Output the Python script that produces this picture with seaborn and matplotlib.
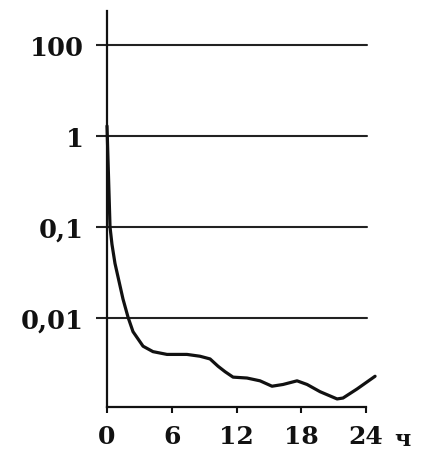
import matplotlib
matplotlib.use("Agg")
import matplotlib.pyplot as plt
import seaborn as sns
import pandas as pd

# Time after start, hours
hours = [0, 0.28, 0.46, 0.74, 1.48, 1.95, 2.41, 3.34, 4.26, 5.56, 7.41,
         8.62, 9.55, 10.29, 10.94, 11.68, 12.97, 14.18, 15.29, 16.31,
         17.61, 18.54, 19.74, 21.32, 21.87, 23.17, 24.84]
# Measured level (log scale)
level = [1.29, 0.1, 0.0646, 0.0398, 0.0162, 0.0102, 0.00708, 0.00490,
         0.00427, 0.00398, 0.00398, 0.00380, 0.00355, 0.00295, 0.00257,
         0.00224, 0.00219, 0.00204, 0.00178, 0.00186, 0.00204, 0.00186,
         0.00155, 0.00129, 0.00132, 0.00166, 0.00229]

x_ticks = [0, 6, 12, 18, 24]
x_tick_labels = ["0", "6", "12", "18", "24"]
y_ticks = [10, 1, 0.1, 0.01]
y_tick_labels = ["100", "1", "0,1", "0,01"]
x_unit = "ч"

sns.set_theme(style="white")
plt.rcParams["font.family"] = ["DejaVu Serif"]
plt.rcParams["font.weight"] = "bold"

fig = plt.figure(figsize=(4.23, 4.56), dpi=100)
ax = fig.add_axes([107 / 423, 1 - 408 / 456, (366 - 107) / 423, (408 - 12) / 456])

df = pd.DataFrame({"hours": hours, "level": level})
sns.lineplot(data=df, x="hours", y="level", ax=ax, color="#111111",
             linewidth=2.3, solid_joinstyle="round", solid_capstyle="round")
ax.lines[0].set_clip_on(False)

ax.set_yscale("log")
ax.set_xlim(0, 24)
ax.set_ylim(10 ** -2.978, 10 ** 1.374)

ax.set_yticks(y_ticks)
ax.set_yticklabels(y_tick_labels)
ax.minorticks_off()
ax.set_xticks(x_ticks)
ax.set_xticklabels(x_tick_labels)

for y in y_ticks:
    ax.axhline(y, xmin=0, xmax=1.004, color="#222222", linewidth=1.5,
               clip_on=False, zorder=1)

ax.set_xlabel("")
ax.set_ylabel("")
for side in ("top", "right"):
    ax.spines[side].set_visible(False)
for side in ("left", "bottom"):
    ax.spines[side].set_color("#111111")
    ax.spines[side].set_linewidth(1.6)

ax.tick_params(axis="y", direction="out", length=8, width=1.5, color="#222222",
               pad=9, labelsize=18.5, labelcolor="#111111", left=True)
ax.tick_params(axis="x", direction="out", length=4.5, width=1.5, color="#111111",
               pad=8, labelsize=18, labelcolor="#111111", bottom=True)

ax.text(1.14, -0.08, x_unit, transform=ax.transAxes, ha="center", va="center",
        fontsize=16, fontweight="bold", color="#111111")

fig.savefig("out.png", dpi=100, facecolor="white")
